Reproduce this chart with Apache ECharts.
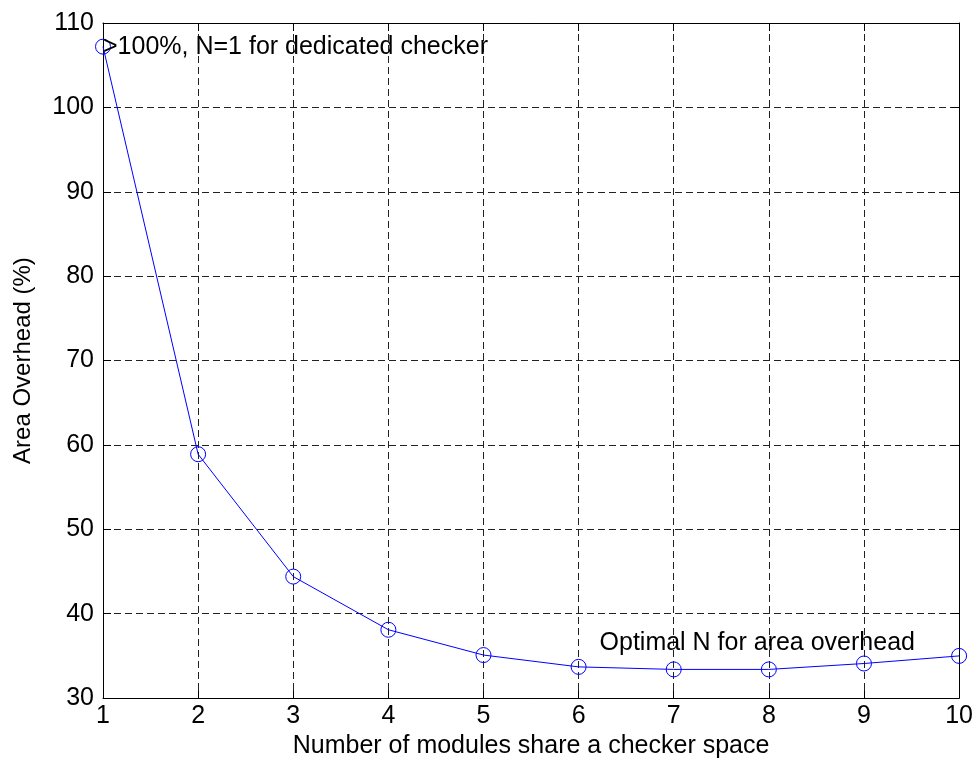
<!DOCTYPE html>
<html>
<head>
<meta charset="utf-8">
<script src="https://cdn.jsdelivr.net/npm/echarts@6/dist/echarts.min.js"></script>
<style>
  html, body { margin: 0; padding: 0; background: #fff; }
  #chart { width: 976px; height: 764px; }
</style>
</head>
<body>
<div id="chart"></div>
<script>
// number of modules sharing one checker
var modules = [1, 2, 3, 4, 5, 6, 7, 8, 9, 10];
// area overhead in percent
var overhead = [107.2, 58.9, 44.4, 38.1, 35.1, 33.7, 33.4, 33.4, 34.1, 35.0];
var notes = [
  {text: '>100%, N=1 for dedicated checker', x: 1, y: 107.2},
  {text: 'Optimal N for area overhead', x: 6.22, y: 36.5}
];

var font = '"Liberation Sans", Arial, sans-serif';
var fontSize = 25;

var gridDash = {show: true, lineStyle: {color: '#222', width: 1, type: [7, 4]}};

var myChart = echarts.init(document.getElementById('chart'));
myChart.setOption({
  animation: false,
  backgroundColor: '#fff',
  textStyle: {fontFamily: font},
  grid: {left: 103, right: 16, top: 23, bottom: 65},
  xAxis: [{
    type: 'value',
    min: 1, max: 10, interval: 1,
    name: 'Number of modules share a checker space',
    nameLocation: 'middle',
    nameGap: 29,
    nameTextStyle: {color: '#000', fontSize: fontSize, fontFamily: font},
    axisLine: {lineStyle: {color: '#000', width: 1}},
    axisTick: {inside: true, length: 8, lineStyle: {color: '#000'}},
    axisLabel: {color: '#000', fontSize: fontSize, fontFamily: font, margin: 6},
    splitLine: gridDash
  }, {
    type: 'value',
    position: 'top',
    min: 1, max: 10, interval: 1,
    axisLine: {show: true, lineStyle: {color: '#000', width: 1}},
    axisTick: {inside: true, length: 8, lineStyle: {color: '#000'}},
    axisLabel: {show: false},
    splitLine: {show: false}
  }],
  yAxis: [{
    type: 'value',
    min: 30, max: 110, interval: 10,
    name: 'Area Overhead (%)',
    nameLocation: 'middle',
    nameGap: 68,
    nameTextStyle: {color: '#000', fontSize: 24, fontFamily: font},
    axisLine: {show: true, lineStyle: {color: '#000', width: 1}},
    axisTick: {show: true, inside: true, length: 8, lineStyle: {color: '#000'}},
    axisLabel: {color: '#000', fontSize: fontSize, fontFamily: font, margin: 9},
    splitLine: gridDash
  }, {
    type: 'value',
    position: 'right',
    min: 30, max: 110, interval: 10,
    axisLine: {show: true, lineStyle: {color: '#000', width: 1}},
    axisTick: {show: true, inside: true, length: 8, lineStyle: {color: '#000'}},
    axisLabel: {show: false},
    splitLine: {show: false}
  }],
  series: [{
    type: 'line',
    data: modules.map(function (n, i) { return [n, overhead[i]]; }),
    symbol: 'circle',
    symbolSize: 15,
    showAllSymbol: true,
    lineStyle: {color: '#0000ff', width: 1},
    itemStyle: {color: 'rgba(0,0,0,0)', borderColor: '#0000ff', borderWidth: 1},
    emphasis: {disabled: true},
    markPoint: {
      symbol: 'circle',
      symbolSize: 0,
      silent: true,
      label: {
        show: true,
        position: 'right',
        distance: 0,
        color: '#000',
        fontSize: fontSize,
        fontFamily: font,
        formatter: function (p) { return p.name; }
      },
      data: notes.map(function (d) {
        return {name: d.text, coord: [d.x, d.y]};
      })
    }
  }]
});
</script>
</body>
</html>
